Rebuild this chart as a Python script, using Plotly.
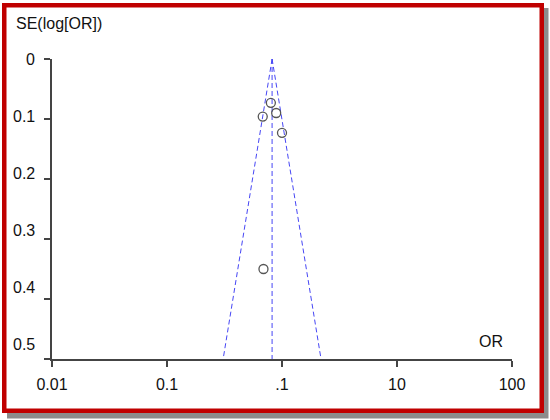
import math
import plotly.graph_objects as go

# ---- data ----
study_or = [0.80, 0.68, 0.89, 1.00, 0.69]
study_se = [0.073, 0.096, 0.090, 0.123, 0.350]
pooled_or = 0.82
se_max = 0.5
x_tickvals = [0.01, 0.1, 1, 10, 100]
x_ticktext = ["0.01", "0.1", ".1", "10", "100"]
y_tickvals = [0, 0.1, 0.2, 0.3, 0.4, 0.5]
y_ticktext = ["0", "0.1", "0.2", "0.3", "0.4", "0.5"]

W, H = 550, 420
L, R, T, B = 52, 38, 59, 61
PW, PH = W - L - R, H - T - B


def px(x):
    return (x - L) / PW


def py(y):
    return (H - B - y) / PH


FONT = "Liberation Sans, Arial, sans-serif"
BLUE = "rgb(70,70,245)"
AXC = "#444444"

fig = go.Figure()

z = 1.96
lo = pooled_or * math.exp(-z * se_max)
hi = pooled_or * math.exp(z * se_max)
for xs in ([pooled_or, lo], [pooled_or, hi], [pooled_or, pooled_or]):
    fig.add_trace(go.Scatter(
        x=xs, y=[0, se_max], mode="lines",
        line=dict(color=BLUE, width=1, dash="5px,3px"),
        hoverinfo="skip", showlegend=False,
    ))

fig.add_trace(go.Scatter(
    x=study_or, y=study_se, mode="markers",
    marker=dict(symbol="circle-open", size=9, color="#555555",
                line=dict(width=1.3, color="#555555")),
    showlegend=False,
))

shapes = [
    # drop shadow
    dict(type="rect", xref="paper", yref="paper",
         x0=px(7), x1=px(548.5), y0=py(418.5), y1=py(8),
         fillcolor="#8c8c8c", line=dict(width=0), layer="below"),
    # red frame
    dict(type="rect", xref="paper", yref="paper",
         x0=px(4.25), x1=px(541.75), y0=py(410.75), y1=py(5.25),
         fillcolor="white", line=dict(color="#c00000", width=4.5), layer="below"),
]

annotations = [
    dict(text="SE(log[OR])", xref="paper", yref="paper", x=px(14), y=py(24),
         xanchor="left", yanchor="middle", showarrow=False,
         font=dict(family=FONT, size=16, color="#111111")),
    dict(text="OR", xref="paper", yref="paper", x=px(504.5), y=py(341),
         xanchor="right", yanchor="middle", showarrow=False,
         font=dict(family=FONT, size=16, color="#111111")),
]
for v, t in zip(y_tickvals, y_ticktext):
    annotations.append(dict(
        text=t, xref="paper", yref="y", x=px(36.5), y=v * 57 / 60,
        xanchor="right", yanchor="middle", showarrow=False,
        font=dict(family=FONT, size=16, color="#111111")))

fig.update_layout(
    width=W, height=H,
    margin=dict(l=L, r=R, t=T, b=B, pad=0),
    paper_bgcolor="white", plot_bgcolor="white",
    shapes=shapes, annotations=annotations,
    font=dict(family=FONT, size=16, color="#111111"),
    xaxis=dict(
        type="log", range=[-2, 2], tickvals=x_tickvals, ticktext=x_ticktext,
        showgrid=False, zeroline=False, showline=True, linecolor=AXC, linewidth=1.5,
        ticks="outside", ticklen=6, tickwidth=1.5, tickcolor=AXC,
        tickfont=dict(family=FONT, size=16, color="#111111"),
        ticklabelstandoff=4,
    ),
    yaxis=dict(
        range=[se_max, 0], tickvals=y_tickvals, showticklabels=False,
        showgrid=False, zeroline=False, showline=True, linecolor=AXC, linewidth=1.5,
        ticks="outside", ticklen=6, tickwidth=1.5, tickcolor=AXC,
    ),
    hovermode=False,
)

fig.write_html("out.html", config={"displayModeBar": False},
               post_script="document.body.style.margin='0';")
